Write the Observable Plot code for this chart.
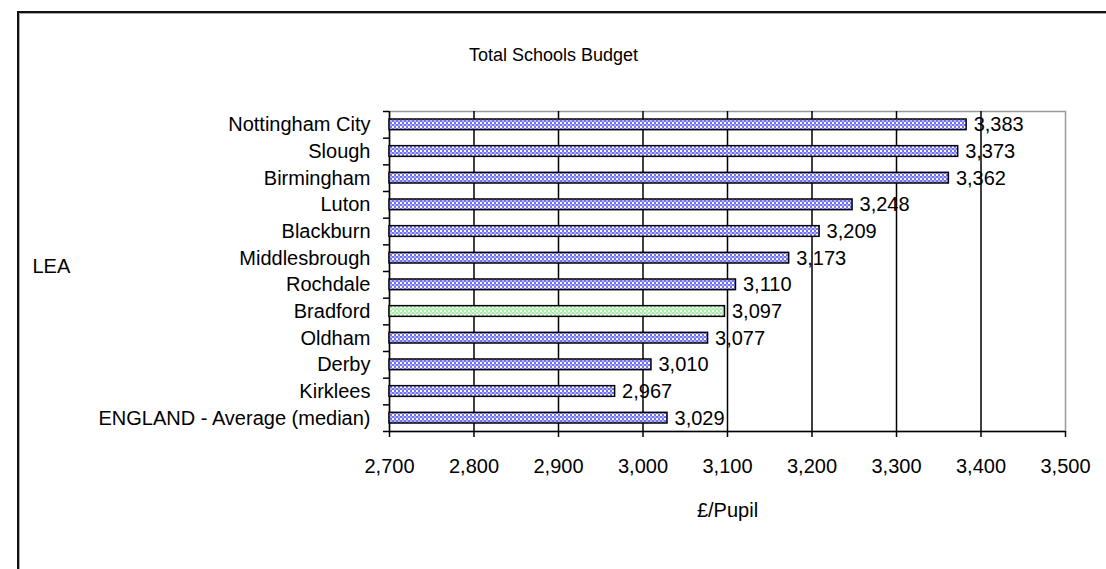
<!DOCTYPE html>
<html>
<head>
<meta charset="utf-8">
<script src="https://cdn.jsdelivr.net/npm/d3@7"></script>
<script src="https://cdn.jsdelivr.net/npm/@observablehq/plot@0.6"></script>
<style>
  html, body { margin: 0; padding: 0; background: #fff; overflow: hidden; }
  #wrap { position: relative; width: 1106px; height: 569px; }
  #border { position: absolute; left: 17px; top: 11px; width: 1100px; height: 570px;
            border-left: 2px solid #111; border-top: 2px solid #111;
            box-shadow: inset 1px 1px 0 #aaa; pointer-events: none; }
  svg { display: block; }
</style>
</head>
<body>
<div id="wrap"><div id="border"></div></div>
<script>
const title = "Total Schools Budget";
const yTitle = "LEA";
const xTitle = "£/Pupil";
const categories = ["Nottingham City","Slough","Birmingham","Luton","Blackburn","Middlesbrough","Rochdale","Bradford","Oldham","Derby","Kirklees","ENGLAND - Average (median)"];
const values = [3383,3373,3362,3248,3209,3173,3110,3097,3077,3010,2967,3029];
const xTicks = [2700,2800,2900,3000,3100,3200,3300,3400,3500];
const highlight = "Bradford";

const data = categories.map((name, i) => ({name, value: values[i]}));
const fmt = d3.format(",");
const xMin = xTicks[0], xMax = xTicks[xTicks.length - 1];

const W = 1106, H = 569;
const mL = 389, mR = 41, mT = 111, mB = 138;
const step = (H - mT - mB) / categories.length;

const chart = Plot.plot({
  width: W, height: H,
  marginLeft: mL, marginRight: mR, marginTop: mT, marginBottom: mB,
  style: {fontFamily: "'Liberation Sans', Arial, sans-serif", fontSize: "20px", color: "#000", background: "transparent", overflow: "visible"},
  x: {domain: [xMin, xMax], ticks: xTicks, tickFormat: fmt, label: null},
  y: {domain: categories, paddingInner: 0.6, paddingOuter: 0.3, round: false, label: null},
  marks: [
    Plot.frame({stroke: "#999", strokeWidth: 1.5}),
    Plot.ruleX(xTicks.slice(1, -1), {stroke: "#000", strokeWidth: 1.5}),
    Plot.ruleX([xMin], {stroke: "#000", strokeWidth: 1.5}),
    Plot.ruleY([categories[categories.length - 1]], {dy: step / 2, stroke: "#000", strokeWidth: 1.5}),
    // category separator ticks on the left axis
    Plot.ruleY(categories, {y: d => d, x1: xMin, x2: xMin, insetLeft: -6, dy: -step / 2, stroke: "#000", strokeWidth: 1.5}),
    Plot.ruleY([categories[categories.length - 1]], {x1: xMin, x2: xMin, insetLeft: -6, dy: step / 2, stroke: "#000", strokeWidth: 1.5}),
    Plot.barX(data, {
      y: "name", x1: xMin, x2: "value",
      fill: d => d.name === highlight ? "url(#chkGreen)" : "url(#chkBlue)",
      stroke: "#000", strokeWidth: 1.5
    }),
    Plot.text(data, {y: "name", x: "value", text: d => fmt(d.value), textAnchor: "start", dx: 7, fill: "#000"}),
    Plot.axisX({ticks: xTicks, tickFormat: fmt, tickSize: 6, tickPadding: 21, stroke: "#000", strokeWidth: 1.5, label: null}),
    Plot.axisY({tickSize: 0, tickPadding: 19, label: null}),
    Plot.text([title], {frameAnchor: "top", lineAnchor: "middle", dx: -174, dy: -56, text: d => d, fontSize: 18}),
    Plot.text([xTitle], {frameAnchor: "bottom", lineAnchor: "middle", dy: 79, text: d => d}),
    Plot.text([yTitle], {frameAnchor: "left", lineAnchor: "middle", textAnchor: "start", dx: -357, dy: -5, text: d => d})
  ]
});

// checkerboard patterns
const svg = d3.select(chart);
const defs = svg.insert("defs", ":first-child");
function checker(id, color) {
  const p = defs.append("pattern").attr("id", id).attr("patternUnits", "userSpaceOnUse")
    .attr("width", 4).attr("height", 4);
  p.append("rect").attr("width", 4).attr("height", 4).attr("fill", "#fff");
  p.append("rect").attr("x", 0).attr("y", 0).attr("width", 2).attr("height", 2).attr("fill", color);
  p.append("rect").attr("x", 2).attr("y", 2).attr("width", 2).attr("height", 2).attr("fill", color);
  p.append("rect").attr("x", 2).attr("y", 0).attr("width", 2).attr("height", 2).attr("fill", color).attr("opacity", 0.55);
}
checker("chkBlue", "#7070f0");
checker("chkGreen", "#a8eca8");

document.getElementById("wrap").prepend(chart);
</script>
</body>
</html>
